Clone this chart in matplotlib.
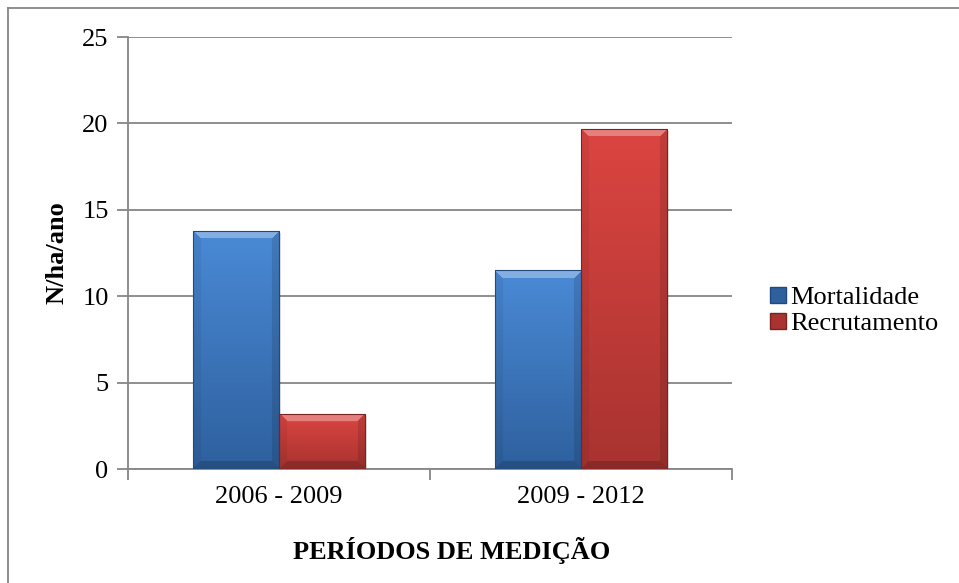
import numpy as np
import matplotlib.pyplot as plt
from matplotlib.colors import to_rgb
from matplotlib.patches import Patch
from matplotlib.lines import Line2D

plt.rcParams['font.family'] = ['Liberation Serif', 'DejaVu Serif']

# dados
periodos = ['2006 - 2009', '2009 - 2012']
mortalidade = [13.8, 11.5]
recrutamento = [3.2, 19.7]
series = ['Mortalidade', 'Recrutamento']

W, H = 959, 583
fig = plt.figure(figsize=(W / 100, H / 100), dpi=100)
ax = fig.add_axes([128 / W, (H - 469) / H, (732 - 128) / W, (469 - 37) / H])

ax.set_xlim(-0.5, 1.5)
ax.set_ylim(0, 25)
ax.set_yticks(range(0, 26, 5))
ax.set_xticks([0, 1])
ax.set_xticklabels(periodos)
ax.grid(axis='y', color='#868686', linewidth=1.3, zorder=0)
ax.set_axisbelow(True)
for s in ['top', 'right']:
    ax.spines[s].set_visible(False)
for s in ['left', 'bottom']:
    ax.spines[s].set_color('#868686')
    ax.spines[s].set_linewidth(1.3)
ax.tick_params(axis='y', length=8, width=1.3, color='#868686', labelsize=19, pad=6)
ax.tick_params(axis='x', length=0, labelsize=19, pad=12)
# marcas entre categorias no eixo x
ax.set_xticks([-0.5, 0.5, 1.5], minor=True)
ax.tick_params(axis='x', which='minor', length=8, width=1.3, color='#868686')

x = np.arange(len(periodos))
w = 0.285
cores = {
    'Mortalidade': ('#4a8ad6', '#2e609e', '#23497a'),
    'Recrutamento': ('#dc4541', '#a83330', '#7a2321'),
}

fig.canvas.draw()


def bevel_bar(patch, top, bot):
    # preenchimento em degrade com chanfro, recortado pela barra
    x0, y0 = patch.get_x(), patch.get_y()
    bw, bh = patch.get_width(), patch.get_height()
    p0 = ax.transData.transform((x0, y0))
    p1 = ax.transData.transform((x0 + bw, y0 + bh))
    wpx, hpx = abs(p1[0] - p0[0]), abs(p1[1] - p0[1])
    nx, ny = max(int(wpx), 2), max(int(hpx), 2)
    u = np.linspace(0, 1, nx)[None, :]
    v = np.linspace(0, 1, ny)[:, None]
    ct = np.array(to_rgb(top))
    cb = np.array(to_rgb(bot))
    img = ct * (1 - v[..., None]) + cb * v[..., None]
    img = np.broadcast_to(img, (ny, nx, 3)).copy()
    b = 8
    dl = np.broadcast_to(u * wpx, (ny, nx))
    dr = np.broadcast_to((1 - u) * wpx, (ny, nx))
    dt = np.broadcast_to(v * hpx, (ny, nx))
    db = np.broadcast_to((1 - v) * hpx, (ny, nx))
    dmin = np.minimum(np.minimum(dl, dr), np.minimum(dt, db))
    zone = dmin < b
    top_z = zone & (dt == dmin)
    bot_z = zone & (db == dmin) & ~top_z
    left_z = zone & (dl == dmin) & ~top_z & ~bot_z
    right_z = zone & ~top_z & ~bot_z & ~left_z
    img[top_z] = img[top_z] + (1 - img[top_z]) * 0.32
    img[bot_z] = img[bot_z] * 0.82
    img[left_z] = img[left_z] * 0.94
    img[right_z] = img[right_z] * 0.88
    im = ax.imshow(img, extent=(x0, x0 + bw, y0, y0 + bh), aspect='auto',
                   zorder=3, interpolation='bilinear')
    im.set_clip_path(patch)


for i, (nome, vals) in enumerate(zip(series, [mortalidade, recrutamento])):
    pos = x + (i - 0.5) * w
    # sombra
    ax.bar(pos + 0.006, vals, w, bottom=-0.12, color='#000000', alpha=0.12, zorder=2, linewidth=0)
    bars = ax.bar(pos, vals, w, color=cores[nome][1], edgecolor=cores[nome][2],
                  linewidth=0.8, zorder=3)
    for p in bars:
        bevel_bar(p, cores[nome][0], cores[nome][1])
        p.set_zorder(4)
        p.set_facecolor('none')

ax.set_xlim(-0.5, 1.5)
ax.set_ylim(0, 25)

fig.text(57 / W, 1 - 253 / H, 'N/ha/ano', rotation=90, ha='center', va='center',
         fontsize=19, fontweight='bold')
fig.text(452 / W, 1 - 551 / H, 'PERÍODOS DE MEDIÇÃO', ha='center', va='center',
         fontsize=19, fontweight='bold')

handles = [Patch(facecolor=cores[n][1], edgecolor=cores[n][2]) for n in series]
fig.legend(handles, series, loc='center left', bbox_to_anchor=(757 / W, 1 - 311 / H),
           frameon=False, fontsize=19, handlelength=0.6, handleheight=0.6,
           handletextpad=0.15, labelspacing=0.12, borderpad=0)

# moldura do grafico (cortada)
fig.add_artist(Line2D([8 / W, 8 / W], [0, 1 - 8 / H], transform=fig.transFigure,
                      color='#868686', linewidth=1.3))
fig.add_artist(Line2D([8 / W, 1], [1 - 8 / H, 1 - 8 / H], transform=fig.transFigure,
                      color='#868686', linewidth=1.3))

fig.savefig('out.png', dpi=100)
